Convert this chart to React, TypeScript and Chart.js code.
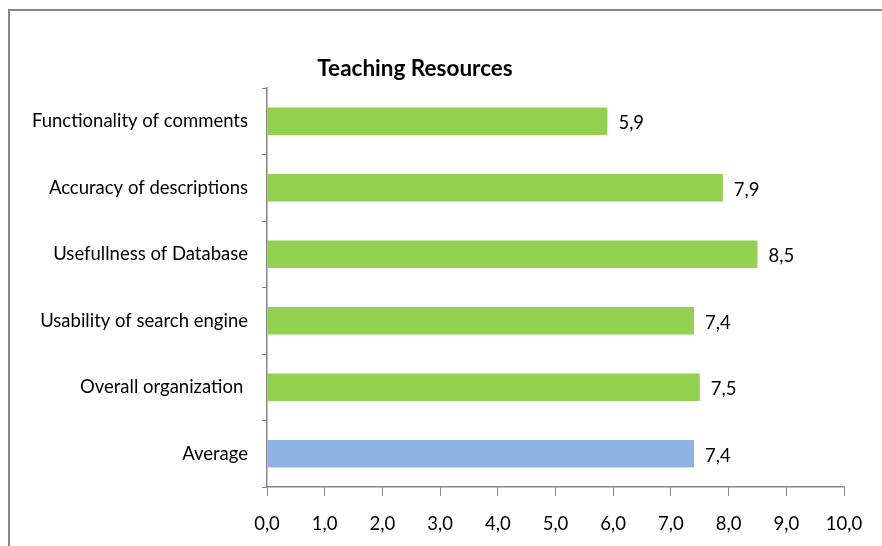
import React, { useEffect, useRef } from "react";
import { Chart, registerables } from "chart.js";

Chart.register(...registerables);

const categories = [
  "Functionality of comments",
  "Accuracy of descriptions",
  "Usefullness of Database",
  "Usability of search engine",
  "Overall organization ",
  "Average",
];
const values = [5.9, 7.9, 8.5, 7.4, 7.5, 7.4];
const barColors = ["#92D050", "#92D050", "#92D050", "#92D050", "#92D050", "#8DB3E2"];
const chartTitle = "Teaching Resources";
const FONT = "Lato, 'Open Sans', sans-serif";

const fmt = (v: number) => v.toFixed(1).replace(".", ",");

const decorPlugin = {
  id: "decor",
  afterDraw(chart: any) {
    const { ctx } = chart;
    ctx.save();
    // outer frame
    ctx.strokeStyle = "#868686";
    ctx.lineWidth = 2;
    ctx.beginPath();
    ctx.moveTo(9, 546);
    ctx.lineTo(9, 10);
    ctx.lineTo(882, 10);
    ctx.stroke();
    // title
    ctx.fillStyle = "#000";
    ctx.font = "bold 22.5px " + FONT;
    ctx.textAlign = "center";
    ctx.textBaseline = "middle";
    ctx.fillText(chartTitle, 415, 69);
    // data labels
    ctx.font = "18.5px " + FONT;
    ctx.textAlign = "left";
    const meta = chart.getDatasetMeta(0);
    meta.data.forEach((bar: any, i: number) => {
      ctx.fillText(fmt(values[i]), bar.x + 11, bar.y + 2);
    });
    ctx.restore();
  },
};

export default function App() {
  const ref = useRef<HTMLCanvasElement>(null);
  useEffect(() => {
    const chart = new Chart(ref.current!, {
      type: "bar",
      data: {
        labels: categories,
        datasets: [
          {
            data: values,
            backgroundColor: barColors,
            barPercentage: 0.41,
            categoryPercentage: 1,
          },
        ],
      },
      plugins: [decorPlugin],
      options: {
        indexAxis: "y",
        animation: false,
        responsive: false,
        devicePixelRatio: 1,
        layout: { padding: { left: 0, top: 88, right: 38, bottom: 0 } },
        plugins: {
          legend: { display: false },
          title: { display: false },
          tooltip: { enabled: false },
        },
        scales: {
          x: {
            min: 0,
            max: 10,
            ticks: {
              stepSize: 1,
              color: "#000",
              padding: 17,
              font: { family: FONT, size: 18.5 },
              callback: (v: any) => fmt(Number(v)),
            },
            grid: { drawOnChartArea: false, tickLength: 9, color: "#868686" },
            border: { color: "#868686", width: 1.5 },
            afterFit: (s: any) => {
              s.height = 59;
            },
          },
          y: {
            offset: true,
            ticks: {
              color: "#000",
              padding: 14,
              font: { family: FONT, size: 18.5 },
            },
            grid: { offset: true, drawOnChartArea: false, tickLength: 5, color: "#868686" },
            border: { color: "#868686", width: 1.5 },
            afterFit: (s: any) => {
              s.width = 267;
            },
          },
        },
      },
    });
    return () => chart.destroy();
  }, []);
  return (
    <div style={{ position: "fixed", left: 0, top: 0, width: 882, height: 546, background: "#fff" }}>
      <canvas ref={ref} width={882} height={546} style={{ display: "block" }} />
    </div>
  );
}
